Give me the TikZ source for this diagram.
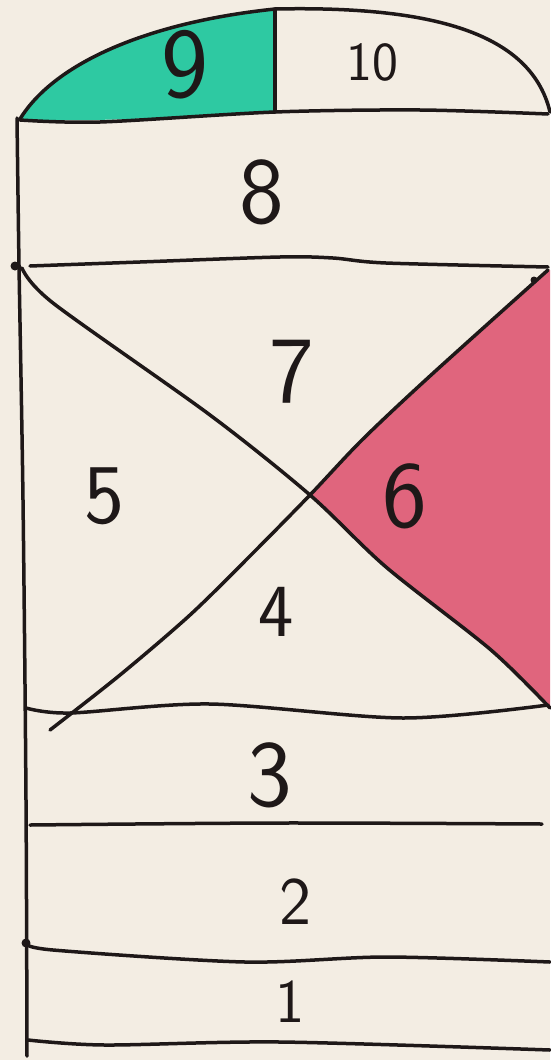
\documentclass[tikz,border=0pt]{standalone}
\usepackage{xcolor}
\definecolor{paper}{RGB}{243,237,227}
\definecolor{mint}{RGB}{46,201,162}
\definecolor{rose}{RGB}{224,101,125}
\definecolor{inkc}{RGB}{30,24,24}
\begin{document}
\begin{tikzpicture}[x=1pt,y=-1pt,
  ink/.style={line width=3.5pt, line cap=round, line join=round, draw=inkc},
  lbl/.style={inner sep=0pt, text=inkc},
  sz/.style={font=\sffamily\fontsize{#1}{#1}\selectfont}]
\fill[paper] (0,0) rectangle (550,1060);
\useasboundingbox (0,0) rectangle (550,1060);
% filled regions
\fill[mint] (20,119) .. controls (55,62) and (150,22) .. (275,9) -- (275,112)
  .. controls (180,116) and (100,123) .. (20,119) -- cycle;
\fill[rose] plot[smooth] coordinates {(310,495) (362,440) (430,376) (548,270)} -- (550,270) -- (550,708)
  -- plot[smooth] coordinates {(548,705) (491,650) (386,567) (310,495)} -- cycle;
% dome and top divider
\draw[ink] (20,119) .. controls (55,62) and (150,22) .. (275,9)
  .. controls (420,6) and (530,28) .. (550,112);
\draw[ink] (275,9) -- (275,112);
% left side
\draw[ink] plot[smooth] coordinates {(17,118) (19,265) (23,500) (26,800) (27,1056)};
% horizontal lines
\draw[ink] plot[smooth] coordinates {(20,120) (100,122) (275,112) (420,110) (548,114)};
\draw[ink] plot[smooth] coordinates {(30,266) (140,262) (280,257) (333,258) (386,263) (548,267)};
\draw[ink] plot[smooth] coordinates {(26,708) (70,713) (210,704) (403,718) (548,705)};
\draw[ink] plot[smooth] coordinates {(30,825) (280,823) (542,824)};
\draw[ink] plot[smooth] coordinates {(26,943) (53,950) (245,962) (386,957) (550,962)};
\draw[ink] plot[smooth] coordinates {(28,1040) (105,1045) (280,1042) (550,1050)};
% diagonals
\draw[ink] plot[smooth] coordinates {(22,268) (53,303) (210,415) (310,495) (386,567) (491,650) (550,708)};
\draw[ink] plot[smooth] coordinates {(548,270) (430,376) (362,440) (310,495) (250,556) (190,615) (120,675) (50,730)};
% dots
\fill[inkc] (15,266) circle (4.5);
\fill[inkc] (26,943) circle (4.5);
\fill[inkc] (534,280) circle (3.5);
% labels
\node[lbl, sz=100] (n9) at (185,65) {9};
\node[lbl, sz=55] (n10) at (372,62) {10};
\node[lbl, sz=95] (n8) at (262,192) {8};
\node[lbl, sz=95] (n7) at (292,372) {7};
\node[lbl, sz=85] (n5) at (104,496) {5};
\node[lbl, sz=95] (n6) at (405,496) {6};
\node[lbl, sz=75] (n4) at (276,612) {4};
\node[lbl, sz=95] (n3) at (270,775) {3};
\node[lbl, sz=68] (n2) at (295,902) {2};
\node[lbl, sz=62] (n1) at (290,1002) {1};
\end{tikzpicture}
\end{document}
